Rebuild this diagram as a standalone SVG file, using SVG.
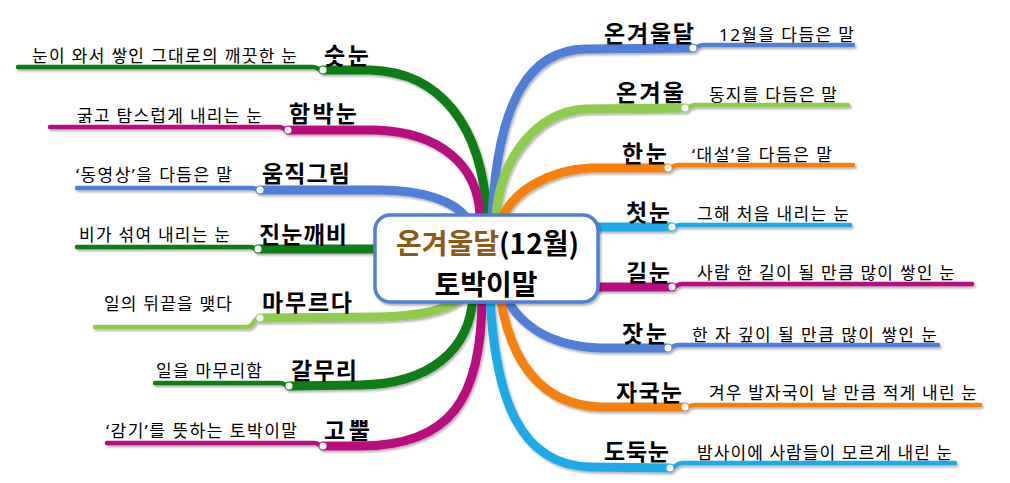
<svg xmlns="http://www.w3.org/2000/svg" width="1010" height="483" viewBox="0 0 1010 483">
<defs>
<filter id="sh" x="-10%" y="-10%" width="120%" height="130%">
<feDropShadow dx="1.5" dy="2" stdDeviation="1.2" flood-color="#000" flood-opacity="0.3"/>
</filter>
<style>
.thick{fill:none;stroke-width:9;stroke-linecap:round;stroke-linejoin:round}
.thin{fill:none;stroke-width:4.5;stroke-linecap:round;stroke-linejoin:round}
.dot{fill:#fff}
.g{stroke:#0d7d12}.m{stroke:#b80f80}.b{stroke:#4f7fd8}.lg{stroke:#8fcb4d}.o{stroke:#f5800f}.lb{stroke:#1eaae8}
.lbl{font-family:"Noto Sans CJK KR","Noto Sans",sans-serif;font-weight:bold;font-size:23px;fill:#000}
.sub{font-family:"Noto Sans","Noto Sans CJK KR",sans-serif;font-size:17px;fill:#000}
.ctr{font-family:"Noto Sans CJK KR","Noto Sans",sans-serif;font-weight:bold;font-size:28px;fill:#000}
</style>
</defs>
<rect width="1010" height="483" fill="#fff"/>
<g id="connectors" filter="url(#sh)">
<path class="thick g" d="M323,70 L370,70 C440,72 482,125 487,216"/>
<path class="thin g" d="M18,67 L313,67 C318,67 318,70 323,70"/>
<path class="thick m" d="M288,130 L375,130 C440,132 478,165 480,216"/>
<path class="thin m" d="M50,127 L279,127 C284,127 284,130 288,130"/>
<path class="thick b" d="M260,190 L380,190 C420,190 455,200 468,220"/>
<path class="thin b" d="M77,188 L252,188 C256,188 256,190 260,190"/>
<path class="thick g" d="M258,249 L420,249"/>
<path class="thin g" d="M77,247 L250,247 C254,247 254,249 258,249"/>
<path class="thick lg" d="M260,318 L380,317 C420,316 450,310 462,296"/>
<path class="thin lg" d="M95,327 L246,327 C255,327 252,318 260,318"/>
<path class="thick g" d="M289,386 L360,385 C430,384 470,350 473,296"/>
<path class="thin g" d="M155,383 L280,383 C285,383 285,386 289,386"/>
<path class="thick m" d="M323,446 L360,446 C450,446 482,400 482,296"/>
<path class="thin m" d="M107,443 L314,443 C319,443 319,446 323,446"/>
<path class="thick b" d="M693,48 L585,49 C530,50 498,100 492,216"/>
<path class="thin b" d="M693,48 C698,48 698,45 703,45 L853,45"/>
<path class="thick lg" d="M685,108 L585,109 C535,112 500,160 496,216"/>
<path class="thin lg" d="M685,108 C690,108 690,105 695,105 L848,105"/>
<path class="thick o" d="M668,168 L590,168 C550,170 515,190 503,216"/>
<path class="thin o" d="M668,168 C673,168 673,165 678,165 L853,165"/>
<path class="thick lb" d="M560,227 L672,227"/>
<path class="thin lb" d="M672,227 C676,227 676,225 680,225 L850,225"/>
<path class="thick m" d="M560,287 L672,287"/>
<path class="thin m" d="M672,287 C677,287 677,284 682,284 L972,284"/>
<path class="thick b" d="M668,348 L600,348 C550,346 520,325 505,296"/>
<path class="thin b" d="M668,348 C673,348 673,345 678,345 L938,345"/>
<path class="thick o" d="M685,407 L600,407 C540,405 510,360 500,296"/>
<path class="thin o" d="M685,407 C690,407 690,405 695,405 L980,405"/>
<path class="thick lb" d="M670,468 L590,467 C520,465 495,400 490,296"/>
<path class="thin lb" d="M670,468 C676,468 676,463 682,463 L955,463"/>
<circle class="dot" cx="323" cy="70" r="3.5"/>
<circle class="dot" cx="288" cy="130" r="3.5"/>
<circle class="dot" cx="260" cy="190" r="3.5"/>
<circle class="dot" cx="258" cy="249" r="3.5"/>
<circle class="dot" cx="260" cy="318" r="3.5"/>
<circle class="dot" cx="289" cy="386" r="3.5"/>
<circle class="dot" cx="323" cy="446" r="3.5"/>
<circle class="dot" cx="693" cy="48" r="3.5"/>
<circle class="dot" cx="685" cy="108" r="3.5"/>
<circle class="dot" cx="668" cy="168" r="3.5"/>
<circle class="dot" cx="672" cy="227" r="3.5"/>
<circle class="dot" cx="672" cy="287" r="3.5"/>
<circle class="dot" cx="668" cy="348" r="3.5"/>
<circle class="dot" cx="685" cy="407" r="3.5"/>
<circle class="dot" cx="670" cy="468" r="3.5"/>
</g>
<g id="center">
<rect x="375" y="215" width="223" height="87" rx="15" fill="#fff" stroke="#4f7fd8" stroke-width="3.5" filter="url(#sh)"/>
<text class="ctr" x="487.5" y="254" text-anchor="middle"><tspan fill="#8c5a17">온겨울달</tspan>(12월)</text>
<text class="ctr" x="486" y="295" text-anchor="middle">토박이말</text>
</g>
<g id="n-sutnun"><text class="lbl" x="324" y="64" textLength="45">숫눈</text><text class="sub" x="32" y="62" textLength="265">눈이 와서 쌓인 그대로의 깨끗한 눈</text></g>
<g id="n-hambaknun"><text class="lbl" x="289" y="122" textLength="68">함박눈</text><text class="sub" x="77" y="122" textLength="185">굵고 탐스럽게 내리는 눈</text></g>
<g id="n-umjikgeurim"><text class="lbl" x="262" y="182" textLength="88">움직그림</text><text class="sub" x="76" y="181" textLength="156">‘동영상’을 다듬은 말</text></g>
<g id="n-jinnunkkaebi"><text class="lbl" x="259" y="243" textLength="88">진눈깨비</text><text class="sub" x="79" y="241" textLength="151">비가 섞여 내리는 눈</text></g>
<g id="n-mamureuda"><text class="lbl" x="262" y="311" textLength="90">마무르다</text><text class="sub" x="104" y="310" textLength="128">일의 뒤끝을 맺다</text></g>
<g id="n-galmuri"><text class="lbl" x="291" y="379" textLength="66">갈무리</text><text class="sub" x="156" y="377" textLength="106">일을 마무리함</text></g>
<g id="n-gobbul"><text class="lbl" x="324" y="439" textLength="46">고뿔</text><text class="sub" x="106" y="437" textLength="191">‘감기’를 뜻하는 토박이말</text></g>
<g id="n-ongyeouldal"><text class="lbl" x="604" y="42" textLength="90">온겨울달</text><text class="sub" x="719" y="41" textLength="135">12월을 다듬은 말</text></g>
<g id="n-ongyeoul"><text class="lbl" x="616" y="101" textLength="68">온겨울</text><text class="sub" x="709" y="101" textLength="128">동지를 다듬은 말</text></g>
<g id="n-hannun"><text class="lbl" x="622" y="162" textLength="45">한눈</text><text class="sub" x="692" y="161" textLength="140">‘대설’을 다듬은 말</text></g>
<g id="n-cheotnun"><text class="lbl" x="626" y="221" textLength="44">첫눈</text><text class="sub" x="697" y="220" textLength="152">그해 처음 내리는 눈</text></g>
<g id="n-gilnun"><text class="lbl" x="626" y="281" textLength="44">길눈</text><text class="sub" x="697" y="279" textLength="258">사람 한 길이 될 만큼 많이 쌓인 눈</text></g>
<g id="n-jatnun"><text class="lbl" x="622" y="342" textLength="45">잣눈</text><text class="sub" x="692" y="341" textLength="245">한 자 깊이 될 만큼 많이 쌓인 눈</text></g>
<g id="n-jagungnun"><text class="lbl" x="616" y="401" textLength="66">자국눈</text><text class="sub" x="709" y="399" textLength="268">겨우 발자국이 날 만큼 적게 내린 눈</text></g>
<g id="n-dodungnun"><text class="lbl" x="604" y="460" textLength="65">도둑눈</text><text class="sub" x="697" y="459" textLength="255">밤사이에 사람들이 모르게 내린 눈</text></g>
</svg>
